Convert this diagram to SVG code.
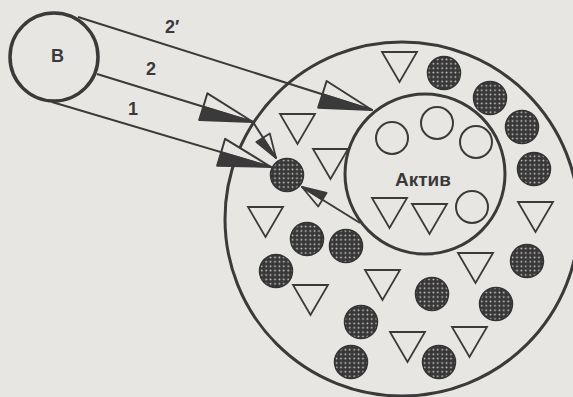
<svg xmlns="http://www.w3.org/2000/svg" width="573" height="397" viewBox="0 0 573 397">
<defs>
<style>
.ln{stroke:#3a3a3a;stroke-width:2;fill:none;stroke-linecap:butt}
.tri{fill:none;stroke:#3a3a3a;stroke-width:1.8}
.hc{fill:none;stroke:#3a3a3a;stroke-width:2}
.fc{fill:url(#dots);stroke:#333;stroke-width:1.5}
.ring{fill:none;stroke:#3a3a3a;stroke-width:3}
.lbl{font-family:"Liberation Sans",Arial,sans-serif;font-weight:bold;fill:#3a3a3a}
</style>
<pattern id="dots" patternUnits="userSpaceOnUse" width="4.4" height="4.4">
<rect width="4.4" height="4.4" fill="#383838"/>
<circle cx="2.2" cy="2.2" r="0.9" fill="#d2d0cc"/>
</pattern>
<path id="tri" d="M0,0 H35 L17.5,30 Z"/>
<marker id="big" markerUnits="userSpaceOnUse" markerWidth="60" markerHeight="34" viewBox="-3 -3 60 34" refX="52" refY="14" orient="auto" overflow="visible">
<path d="M0,0 L52,14 L0,14 Z" fill="#e8e6e2" stroke="#3a3a3a" stroke-width="2" stroke-linejoin="round"/>
<path d="M0,14 L52,14 L0,28 Z" fill="#3a3a3a" stroke="#3a3a3a" stroke-width="2" stroke-linejoin="round"/>
</marker>
<marker id="small" markerUnits="userSpaceOnUse" markerWidth="30" markerHeight="22" viewBox="-3 -3 30 22" refX="24" refY="8" orient="auto" overflow="visible">
<path d="M0,0 L24,8 L0,8 Z" fill="#e8e6e2" stroke="#3a3a3a" stroke-width="1.8" stroke-linejoin="round"/>
<path d="M0,8 L24,8 L0,16 Z" fill="#3a3a3a" stroke="#3a3a3a" stroke-width="1.8" stroke-linejoin="round"/>
</marker>
</defs>
<rect width="573" height="397" fill="#e8e6e2"/>

<g id="source-B">
<circle cx="54" cy="57" r="44" fill="none" stroke="#3a3a3a" stroke-width="3.5"/>
<text class="lbl" x="57.5" y="62" font-size="18" text-anchor="middle">В</text>
</g>

<g id="medium">
<circle cx="402" cy="219" r="177" class="ring"/>
</g>

<g id="active">
<circle cx="425" cy="174" r="80" class="ring"/>
<text class="lbl" x="423" y="186" font-size="19" text-anchor="middle">Актив</text>
<circle class="hc" cx="392" cy="138" r="16"/>
<circle class="hc" cx="437" cy="123" r="16"/>
<circle class="hc" cx="476" cy="142" r="16"/>
<circle class="hc" cx="472" cy="207" r="16"/>
<use href="#tri" class="tri" x="372" y="198"/>
<use href="#tri" class="tri" x="412" y="204"/>
</g>

<g id="particles">
<use href="#tri" class="tri" x="382" y="52"/>
<use href="#tri" class="tri" x="280" y="114"/>
<use href="#tri" class="tri" x="313" y="149"/>
<use href="#tri" class="tri" x="248" y="207"/>
<use href="#tri" class="tri" x="293" y="285"/>
<use href="#tri" class="tri" x="365" y="270"/>
<use href="#tri" class="tri" x="458" y="253"/>
<use href="#tri" class="tri" x="390" y="332"/>
<use href="#tri" class="tri" x="452" y="327"/>
<use href="#tri" class="tri" x="518" y="202"/>
<circle class="fc" cx="444" cy="73" r="16.5"/>
<circle class="fc" cx="490" cy="98" r="16.5"/>
<circle class="fc" cx="522" cy="127" r="16.5"/>
<circle class="fc" cx="534" cy="169" r="16.5"/>
<circle class="fc" cx="307" cy="239" r="16.5"/>
<circle class="fc" cx="346" cy="246" r="16.5"/>
<circle class="fc" cx="276" cy="271" r="16.5"/>
<circle class="fc" cx="361" cy="322" r="16.5"/>
<circle class="fc" cx="351" cy="362" r="16.5"/>
<circle class="fc" cx="527" cy="261" r="16.5"/>
<circle class="fc" cx="432" cy="294" r="16.5"/>
<circle class="fc" cx="496" cy="304" r="16.5"/>
<circle class="fc" cx="439" cy="362" r="16.5"/>
</g>

<g id="target">
<circle class="fc" cx="287" cy="175" r="16.5"/>
</g>

<g id="connectors">
<path class="ln" d="M78,17 L372,110" marker-end="url(#big)"/>
<path class="ln" d="M97,74 L253,122" marker-end="url(#big)"/>
<path class="ln" d="M253,122 L276,158" marker-end="url(#small)"/>
<path class="ln" d="M52,102 L271,167" marker-end="url(#big)"/>
<path class="ln" d="M360,223 L302,187" marker-end="url(#small)"/>
<text class="lbl" x="165" y="33" font-size="18">2′</text>
<text class="lbl" x="146" y="75" font-size="18">2</text>
<text class="lbl" x="128" y="115" font-size="18">1</text>
</g>
</svg>
